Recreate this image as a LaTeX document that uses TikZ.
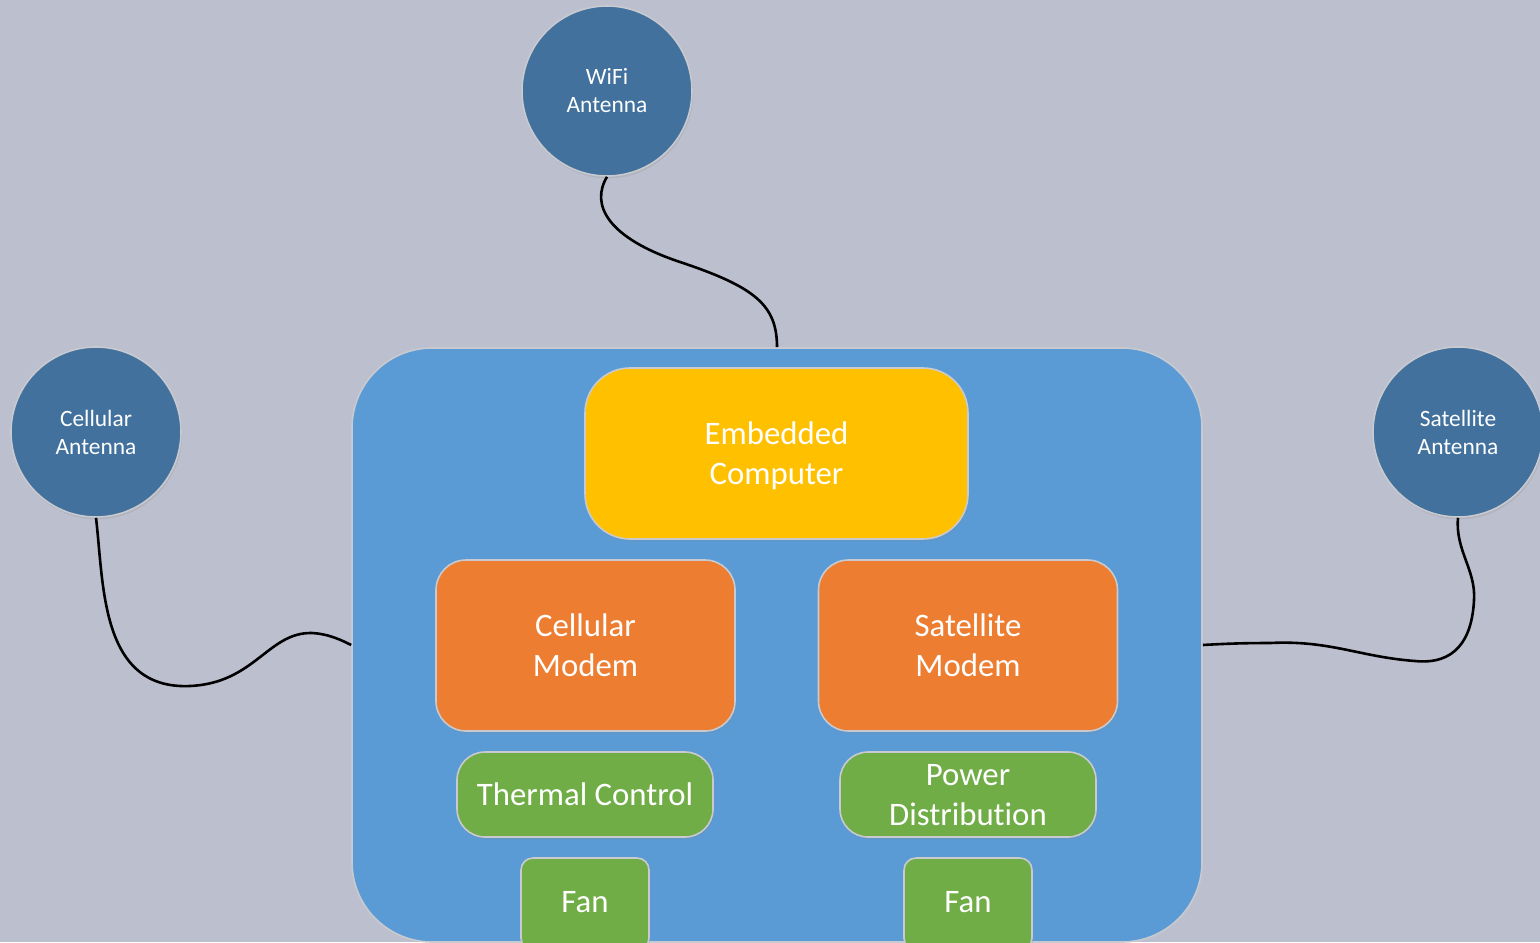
\documentclass[tikz,border=0pt]{standalone}
\usepackage{fontspec}
\setmainfont{Carlito}[RawFeature={-liga;-clig;-calt;-dlig}]
\usetikzlibrary{shadows}
\definecolor{bgcol}{HTML}{BCBFCE}
\definecolor{boardcol}{HTML}{5B9BD5}
\definecolor{antcol}{HTML}{41719C}
\definecolor{cpucol}{HTML}{FFC000}
\definecolor{modemcol}{HTML}{ED7D31}
\definecolor{auxcol}{HTML}{70AD47}
\definecolor{rimcol}{HTML}{C8CACF}
% shift text inside a node without changing the box the node centres on
\newcommand{\nudge}[2]{\raisebox{#1}[\height][\depth]{#2}}
\tikzset{
  softshadow/.style={drop shadow={opacity=0.18,shadow xshift=0.6pt,shadow yshift=-1.2pt}},
  antenna/.style={circle,minimum size=85pt,inner sep=0pt,fill=antcol,draw=rimcol,line width=0.8pt,
    softshadow,text=white,align=center,font=\fontsize{11.7pt}{14pt}\selectfont},
  unit/.style={rectangle,inner sep=0pt,draw=rimcol,line width=0.8pt,softshadow,
    text=white,align=center,font=\fontsize{16.4pt}{20pt}\selectfont},
  cpubox/.style={unit,fill=cpucol,minimum width=191.5pt,minimum height=85.5pt,rounded corners=22.5pt},
  modembox/.style={unit,fill=modemcol,minimum width=149.5pt,minimum height=85.5pt,rounded corners=15pt},
  auxbox/.style={unit,fill=auxcol,minimum width=128pt,minimum height=42.5pt,rounded corners=14pt},
  fanbox/.style={unit,fill=auxcol,minimum width=64pt,minimum height=46pt,rounded corners=6pt},
  cable/.style={draw=black,line width=1.3pt}
}
\begin{document}
\begin{tikzpicture}[x=0.5pt,y=-0.5pt]
  % canvas
  \fill[bgcol] (0,0) rectangle (1540,942);
  \useasboundingbox (0,0) rectangle (1540,942);

  % enclosure
  \node[rectangle,fill=boardcol,draw=rimcol,line width=0.8pt,rounded corners=40pt,
        minimum width=425pt,minimum height=297pt,inner sep=0pt] (board) at (777,645) {};

  % antennas
  \node[antenna] (wifi) at (607,91) {WiFi\\Antenna};
  \node[antenna] (cellant) at (96,432) {Cellular\\Antenna};
  \node[antenna] (satant) at (1458,432) {Satellite\\Antenna};

  % internal units
  \node[cpubox] (cpu) at (776.5,453.5) {\nudge{-1.5pt}{\begin{tabular}{@{}c@{}}Embedded\\Computer\end{tabular}}};
  \node[modembox] (cellmodem) at (585.5,645.5) {Cellular\\Modem};
  \node[modembox] (satmodem) at (968,645.5) {Satellite\\Modem};
  \node[auxbox] (thermal) at (585,794.5) {Thermal Control};
  \node[auxbox] (power) at (968,794.5) {\nudge{-1.5pt}{\begin{tabular}{@{}c@{}}Power\\Distribution\end{tabular}}};
  \node[fanbox] (fanl) at (585,904) {\nudge{1pt}{Fan}};
  \node[fanbox] (fanr) at (968,904) {\nudge{1pt}{Fan}};

  % antenna cables
  \draw[cable] (wifi.south) .. controls (590,205) and (608,238) .. (680,262)
               .. controls (755,287) and (777,305) .. (board.north);
  \draw[cable] (cellant.south) .. controls (104,585) and (100,690) .. (190,686)
               .. controls (255,683) and (268,632) .. (312,633)
               .. controls (330,634) and (343,641) .. (board.west);
  \draw[cable] (satant.south) .. controls (1455,550) and (1476,570) .. (1474,600)
               .. controls (1472,640) and (1455,665) .. (1415,661)
               .. controls (1360,657) and (1330,640) .. (1270,643)
               .. controls (1240,643) and (1220,644) .. (board.east);
\end{tikzpicture}
\end{document}
